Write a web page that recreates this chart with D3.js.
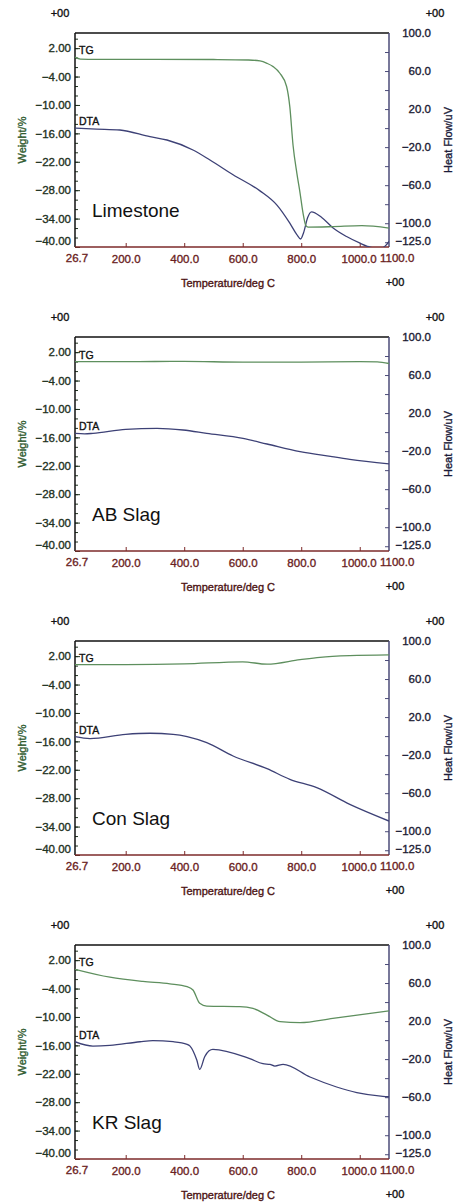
<!DOCTYPE html>
<html><head><meta charset="utf-8">
<script src="https://cdn.jsdelivr.net/npm/d3@7"></script>
<style>
body{margin:0;background:#fff}
svg text{font-family:"Liberation Sans",Arial,sans-serif}
.hv{stroke-width:0.35px;paint-order:stroke}
</style>
</head><body>
<svg id="c" width="454" height="1203"></svg>
<script>
// ---------- data ----------
const sampleNames = ["Limestone", "AB Slag", "Con Slag", "KR Slag"];
const tempDomain = [26.7, 1100];
const weightDomain = [-40, 5.2];
const heatDomain = [-125, 100];
const xTickValues = [200, 400, 600, 800, 1000];
const xTickLabels = ["200.0", "400.0", "600.0", "800.0", "1000.0"];
const xEndLabels = ["26.7", "1100.0"];
const weightTicks = [2, -4, -10, -16, -22, -28, -34, -40];
const heatTicks = [100, 60, 20, -20, -60, -100, -125];

// TG (weight %) and DTA (heat flow uV) as [temperature, value]
const tgLimestone = [[26.7,0.1],[45,-0.3],[100,-0.35],[300,-0.35],[500,-0.4],[620,-0.5],[659,-0.7],[683,-1.2],[704,-1.9],[727,-3.3],[750,-6.1],[761,-10.4],[772,-18.5],[785,-24.4],[796,-28.6],[806,-32.8],[816,-35.5],[823,-35.8],[908,-35.7],[1007,-35.5],[1100,-36.0]];
const dtaLimestone = [[26.7,0],[100,-1],[180,-2],[283,-9],[341,-12.5],[430,-23],[488,-33.5],[567,-49],[659,-66],[717,-81],[761,-100],[785,-112],[798,-116.6],[808,-110],[822,-94],[835,-88],[870,-94],[909,-105],[955,-114],[1001,-121],[1024,-124],[1050,-126],[1075,-126],[1090,-123],[1100,-119]];

const tgAB = [[26.7,0],[200,0],[400,0.05],[600,-0.1],[800,-0.1],[1000,0],[1060,-0.05],[1100,-0.4]];
const dtaAB = [[26.7,-1.3],[60,-1.8],[88,-1.3],[200,2.9],[307,3.9],[396,2.2],[477,-1.3],[601,-6.6],[683,-12.5],[796,-20.6],[900,-25.6],[966,-28.6],[1100,-33.4]];

const tgCon = [[26.7,0.2],[200,0.2],[400,0.35],[600,0.8],[683,0.3],[796,1.25],[864,1.75],[966,2.1],[1100,2.25]];
const dtaCon = [[26.7,-0.5],[78,-2.6],[200,1.9],[283,3],[362,1.9],[410,-0.5],[477,-6.9],[567,-20.9],[683,-34.2],[761,-45.4],[853,-54.2],[966,-71.8],[1100,-89.3]];

const tgKR = [[26.7,0.07],[146,-1.6],[259,-2.5],[351,-3.0],[410,-3.6],[430,-4.3],[453,-7.1],[477,-7.7],[590,-7.8],[635,-8.2],[683,-9.6],[728,-11.0],[796,-11.2],[908,-10.3],[1100,-8.7]];
const dtaKR = [[26.7,-1.7],[88,-6.3],[146,-5.6],[249,-1.7],[293,-0.6],[362,-1.7],[410,-4.4],[420,-6.3],[443,-21],[453,-30.8],[470,-17.5],[485,-11.2],[498,-9.7],[624,-19.5],[669,-24.8],[693,-25.5],[710,-27.3],[738,-25.5],[830,-38.8],[921,-49.3],[990,-55.2],[1079,-59.1],[1100,-59.5]];

const tgSeries = [tgLimestone, tgAB, tgCon, tgKR];
const dtaSeries = [dtaLimestone, dtaAB, dtaCon, dtaKR];

// ---------- layout ----------
const svg = d3.select("#c");
svg.append("rect").attr("width",454).attr("height",1203).attr("fill","#fff");
const L = 75, R = 389, H = 214, STEP = 304, TOP0 = 33;
const C = {
  tg: "#5e8f5e", dta: "#3d4176",
  left: "#1f321f", right: "#1c1c34", bottom: "#6b1f1f",
  wTitle: "#2f5a2f", hTitle: "#1c1c3a", tTitle: "#4d1414",
  boxL: "#111", boxR: "#4b4b78", boxB: "#7d2a2a"
};
const x = d3.scaleLinear().domain(tempDomain).range([L, R]);

function heavy(sel, col) { return sel.attr("class", "hv").attr("fill", col).attr("stroke", col); }

sampleNames.forEach((name, i) => {
  const top = TOP0 + i * STEP, bot = top + H;
  const yW = d3.scaleLinear().domain(weightDomain).range([bot, top]);
  const yH = d3.scaleLinear().domain(heatDomain).range([bot, top]);
  const g = svg.append("g");

  const cid = "clip" + i;
  svg.append("clipPath").attr("id", cid).append("rect")
    .attr("x", L).attr("y", top).attr("width", R - L).attr("height", H);

  // minor left ticks (every 2 units)
  const minorW = d3.range(4, -41, -2);
  const axW = g.append("g").attr("transform", `translate(${L},0)`)
    .call(d3.axisLeft(yW).tickValues(minorW).tickSize(-3).tickFormat(""));
  axW.select(".domain").remove();
  axW.selectAll("line").attr("stroke", C.left);
  // major left ticks + labels
  const axW2 = g.append("g").attr("transform", `translate(${L},0)`)
    .call(d3.axisLeft(yW).tickValues(weightTicks).tickSize(-5).tickPadding(4).tickFormat(d3.format(".2f")));
  axW2.select(".domain").remove();
  axW2.selectAll("line").attr("stroke", C.left);
  heavy(axW2.selectAll("text"), C.left).attr("font-size", 11.5)
    .attr("font-family", "Liberation Sans, Arial, sans-serif")
    .attr("dy", d => d === -40 ? "-0.25em" : "0.32em");

  // right ticks
  const minorH = d3.range(80, -125, -20);
  const axH = g.append("g").attr("transform", `translate(${R},0)`)
    .call(d3.axisRight(yH).tickValues(minorH).tickSize(-4).tickFormat(""));
  axH.select(".domain").remove();
  axH.selectAll("line").attr("stroke", C.boxR);
  heavy(g.selectAll(".hl").data(heatTicks).enter().append("text"), C.right)
    .attr("x", 431).attr("y", d => yH(d)).attr("dy", d => d === -125 ? "-0.2em" : "0.35em")
    .attr("text-anchor", "end").attr("font-size", 11.5)
    .text(d => d3.format(".1f")(d));

  // bottom ticks + labels
  const axX = g.append("g").attr("transform", `translate(0,${bot})`)
    .call(d3.axisBottom(x).tickValues(xTickValues).tickSize(-4).tickPadding(8).tickFormat((d, k) => xTickLabels[k]));
  axX.select(".domain").remove();
  axX.selectAll("line").attr("stroke", C.boxB);
  heavy(axX.selectAll("text"), C.bottom).attr("font-size", 11.5)
    .attr("font-family", "Liberation Sans, Arial, sans-serif")
    .attr("dx", d => d === 1000 ? "-0.1em" : 0);
  heavy(g.append("text"), C.bottom).attr("x", x(tempDomain[0]) + 2).attr("y", bot + 15).attr("text-anchor", "middle")
    .attr("font-size", 11.5).text(xEndLabels[0]);
  heavy(g.append("text"), C.bottom).attr("x", x(tempDomain[1]) - 9).attr("y", bot + 15).attr("text-anchor", "start")
    .attr("font-size", 11.5).text(xEndLabels[1]);

  // box borders
  g.append("line").attr("x1", L).attr("x2", R).attr("y1", top).attr("y2", top).attr("stroke", C.boxL).attr("stroke-width", 1.5);
  g.append("line").attr("x1", L).attr("x2", L).attr("y1", top).attr("y2", bot).attr("stroke", C.boxL).attr("stroke-width", 1.5);
  g.append("line").attr("x1", R).attr("x2", R).attr("y1", top).attr("y2", bot).attr("stroke", C.boxR).attr("stroke-width", 1.5);
  g.append("line").attr("x1", L).attr("x2", R).attr("y1", bot).attr("y2", bot).attr("stroke", C.boxB).attr("stroke-width", 1.5);

  // curves
  const lineW = d3.line().x(d => x(d[0])).y(d => yW(d[1])).curve(d3.curveMonotoneX);
  const lineH = d3.line().x(d => x(d[0])).y(d => yH(d[1])).curve(d3.curveMonotoneX);
  const cg = g.append("g").attr("clip-path", `url(#${cid})`);
  cg.append("path").datum(dtaSeries[i]).attr("d", lineH).attr("fill", "none")
    .attr("stroke", C.dta).attr("stroke-width", 1.3);
  cg.append("path").datum(tgSeries[i]).attr("d", lineW).attr("fill", "none")
    .attr("stroke", C.tg).attr("stroke-width", 1.3);

  // curve labels
  heavy(g.append("text"), "#111").attr("x", L + 4).attr("y", yW(tgSeries[i][0][1]) - 3)
    .attr("font-size", 10.5).text("TG");
  heavy(g.append("text"), "#111").attr("x", L + 4).attr("y", yH(dtaSeries[i][0][1]) - 3)
    .attr("font-size", 10.5).text("DTA");

  // sample name
  g.append("text").attr("x", 92).attr("y", top + 184)
    .attr("font-family", "'Open Sans','Noto Sans',sans-serif")
    .attr("font-size", 19).attr("fill", "#111").text(name);

  // exponent markers
  heavy(g.append("text"), "#111").attr("x", 60).attr("y", top - 16).attr("text-anchor", "middle")
    .attr("font-size", 11).text("+00");
  heavy(g.append("text"), "#111").attr("x", 435).attr("y", top - 16).attr("text-anchor", "middle")
    .attr("font-size", 11).text("+00");
  heavy(g.append("text"), "#111").attr("x", 395).attr("y", bot + 39).attr("text-anchor", "middle")
    .attr("font-size", 11).text("+00");

  // axis titles
  heavy(g.append("text"), C.tTitle).attr("x", 228).attr("y", bot + 40).attr("text-anchor", "middle")
    .attr("font-size", 11).text("Temperature/deg C");
  heavy(g.append("text"), C.wTitle).attr("transform", `translate(26,${top + H / 2}) rotate(-90)`)
    .attr("text-anchor", "middle").attr("font-size", 11).text("Weight/%");
  heavy(g.append("text"), C.hTitle).attr("transform", `translate(452,${top + H / 2}) rotate(-90)`)
    .attr("text-anchor", "middle").attr("font-size", 11).text("Heat Flow/uV");
});
</script>
</body></html>
